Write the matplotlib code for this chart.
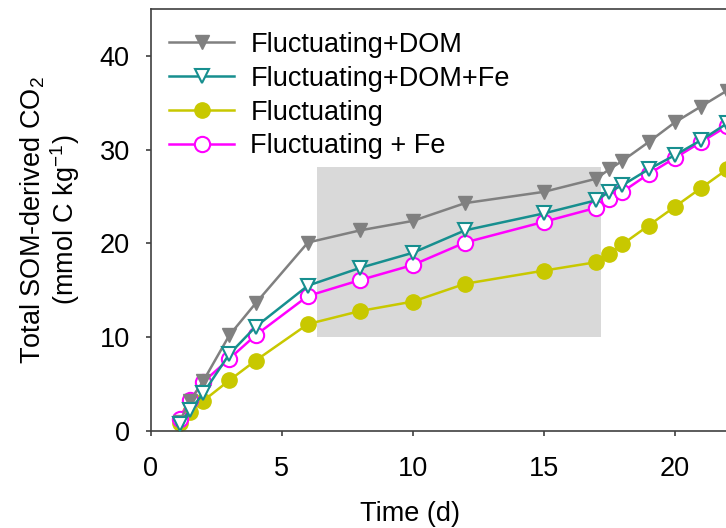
import matplotlib
matplotlib.use("Agg")
import matplotlib.pyplot as plt
from matplotlib.patches import Rectangle

plt.rcParams['font.family'] = ['Liberation Sans', 'DejaVu Sans']
plt.rcParams['mathtext.fontset'] = 'custom'
plt.rcParams['mathtext.rm'] = 'Liberation Sans'
plt.rcParams['mathtext.default'] = 'regular'

# sampling days
days = [1.1, 1.5, 2, 3, 4, 6, 8, 10, 12, 15, 17, 17.5, 18, 19, 20, 21, 22]

# cumulative SOM-derived CO2 (mmol C kg-1)
fluct_dom = [1.0, 3.2, 5.3, 10.2, 13.6, 20.1, 21.4, 22.4, 24.3, 25.5, 26.9, 27.9, 28.8, 30.8, 32.9, 34.6, 36.3]
fluct_dom_fe = [0.7, 2.2, 4.0, 8.2, 11.1, 15.5, 17.4, 19.0, 21.4, 23.2, 24.6, 25.5, 26.2, 27.9, 29.4, 31.0, 32.8]
fluct = [0.8, 2.0, 3.2, 5.4, 7.5, 11.4, 12.8, 13.8, 15.7, 17.1, 18.0, 18.9, 19.9, 21.9, 23.9, 25.9, 27.9]
fluct_fe = [1.3, 3.3, 5.2, 7.7, 10.2, 14.4, 16.1, 17.7, 20.1, 22.3, 23.8, 24.7, 25.5, 27.4, 29.1, 30.8, 32.5]

# shaded period
shade_x = (6.33, 17.17)
shade_y = (10.0, 28.1)

W, H = 726, 528
fig = plt.figure(figsize=(W / 100, H / 100), dpi=100)
ax = fig.add_axes([150.7 / W, (H - 431) / H, 655 / W, 422 / H])

ax.add_patch(Rectangle((shade_x[0], shade_y[0]), shade_x[1] - shade_x[0],
                       shade_y[1] - shade_y[0], facecolor='#d9d9d9',
                       edgecolor='none', zorder=0))

lw = 1.8
h_fl, = ax.plot(days, fluct, color='#c8c800', lw=lw, marker='o', ms=11,
                markeredgecolor='#c8c800', label='Fluctuating', zorder=2)
h_fe, = ax.plot(days, fluct_fe, color='#ff00ff', lw=lw, marker='o', ms=11,
                markerfacecolor='white', markeredgecolor='#ff00ff', mew=1.5,
                label='Fluctuating + Fe', zorder=3)
h_dom, = ax.plot(days, fluct_dom, color='#808080', lw=lw, marker='v', ms=10.5,
                 markeredgecolor='#808080', label='Fluctuating+DOM', zorder=4)
h_domfe, = ax.plot(days, fluct_dom_fe, color='#178f8f', lw=lw, marker='v', ms=10.5,
                   markerfacecolor='white', markeredgecolor='#178f8f', mew=1.5,
                   label='Fluctuating+DOM+Fe', zorder=5)

ax.set_xlim(0, 25)
ax.set_ylim(0, 45)
ax.set_xticks([0, 5, 10, 15, 20])
ax.set_yticks([0, 10, 20, 30, 40])

for s in ax.spines.values():
    s.set_color('#404040')
    s.set_linewidth(1.2)
ax.tick_params(direction='out', length=3.6, width=1.2, color='#404040',
               labelsize=19.5)
ax.tick_params(axis='x', pad=14.5)
ax.tick_params(axis='y', pad=11.5)

ax.set_xlabel('Time (d)', fontsize=19.5)
ax.xaxis.set_label_coords((410 - 150.7) / 655, -0.165)
ax.set_ylabel('Total SOM-derived CO$_2$\n(mmol C kg$^{-1}$)', fontsize=19.5,
              linespacing=1.05)
ax.yaxis.set_label_coords(-0.105, 0.5)

ax.legend(handles=[h_dom, h_domfe, h_fl, h_fe], loc='upper left',
          bbox_to_anchor=(0.0074, 0.978), frameon=False, fontsize=19.5,
          handlelength=2.4, handletextpad=0.6, labelspacing=0.29,
          borderpad=0, numpoints=1)

fig.savefig('out.png', dpi=100)
